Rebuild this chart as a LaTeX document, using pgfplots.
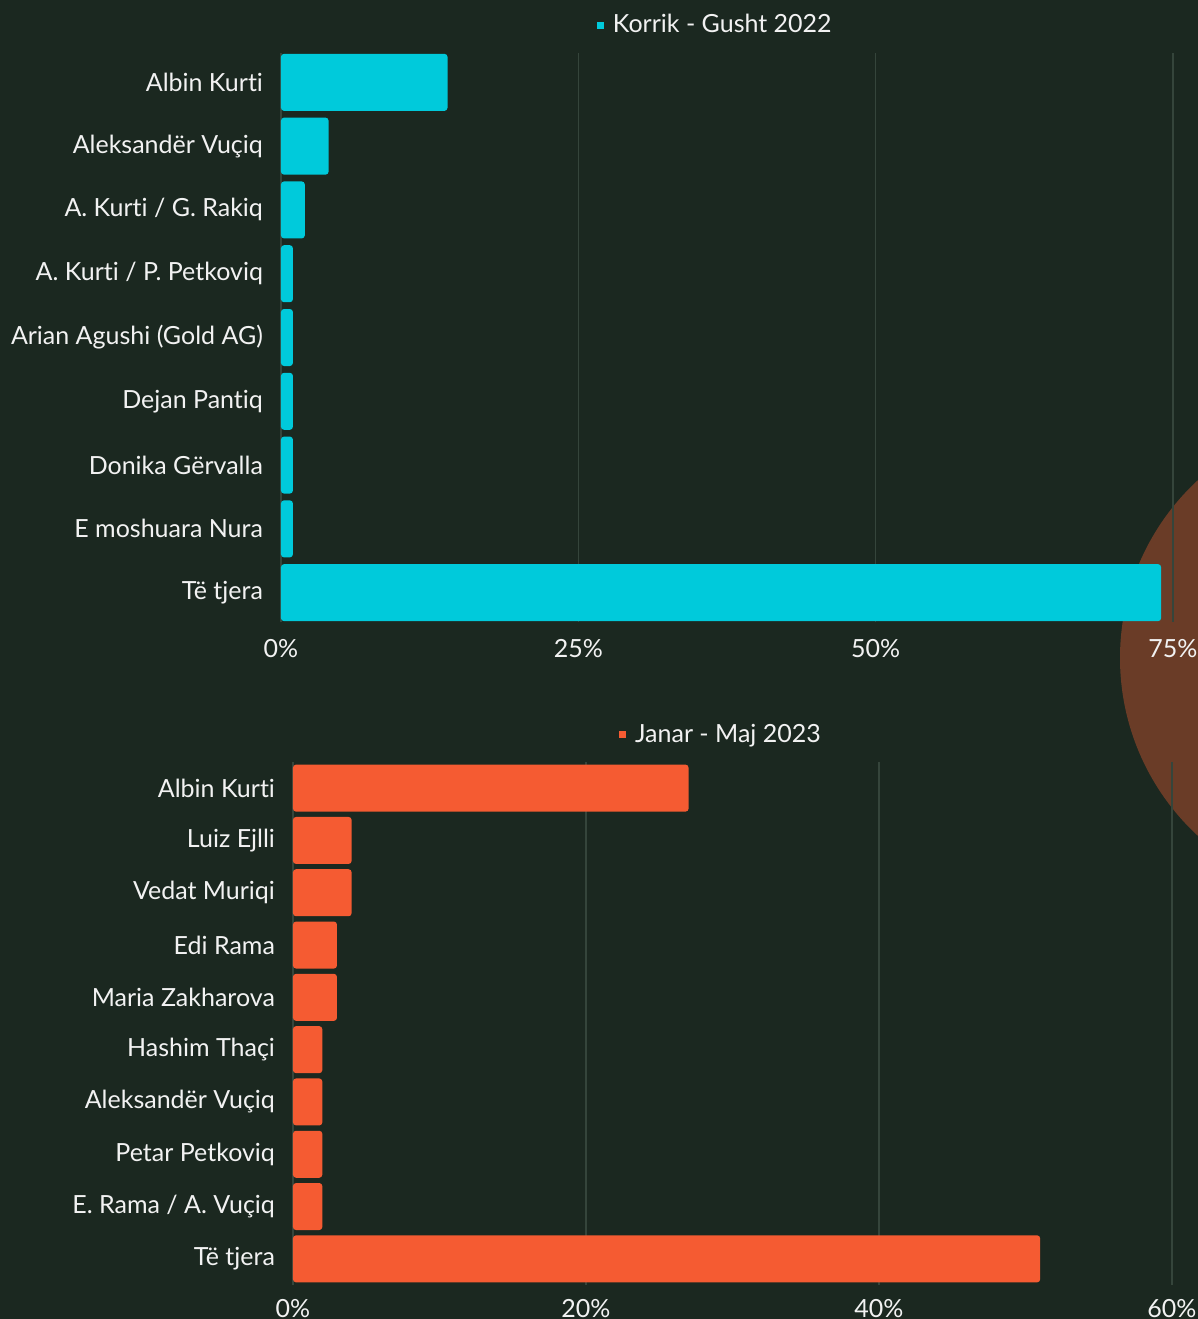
\documentclass[border=0pt]{standalone}
\usepackage{pgfplots}
\pgfplotsset{compat=1.18}
\usepackage{fontspec}
\setmainfont{Lato}[Ligatures={NoCommon}]

\definecolor{bgc}{HTML}{1B2820}
\definecolor{gridc}{HTML}{35453B}
\definecolor{cyanbar}{HTML}{00CADB}
\definecolor{orangebar}{HTML}{F55B32}
\definecolor{blob}{HTML}{6A3C27}
\definecolor{txt}{HTML}{F2F2F2}

% shared look of both panels
\pgfplotsset{
  panel/.style={
    scale only axis,
    xbar, xmin=0,
    y dir=reverse,
    axis line style={draw=none},
    major tick length=0pt,
    xmajorgrids, grid style={gridc, line width=0.6pt},
    ytick=data,
    tick label style={text=txt, font=\fontsize{12.5}{14}\selectfont},
    /pgf/number format/assume math mode=true,
    xticklabel={\pgfmathprintnumber{\tick}\%},
    yticklabel style={anchor=east, xshift=-5.5pt},
    legend style={draw=none, fill=none, text=txt,
      font=\fontsize{12.5}{14}\selectfont, anchor=center,
      /tikz/every odd column/.append style={column sep=2.5pt}},
    legend image code/.code={\fill[##1, draw=none, sharp corners] (0pt,-1.75pt) rectangle (3.5pt,1.75pt);},
  },
}

\begin{document}
\begin{tikzpicture}
\fill[bgc] (0,0) rectangle (599pt,659.5pt);
\useasboundingbox (0,0) rectangle (599pt,659.5pt);
\begin{scope}
  \clip (0,0) rectangle (599pt,659.5pt);
  \fill[blob] (681pt,330.5pt) circle (121pt);
\end{scope}

% ---- Korrik - Gusht 2022 ----
\begin{axis}[panel,
  at={(140.5pt,348.5pt)}, anchor=south west,
  width=446pt, height=284.5pt,
  xmax=75, xtick={0,25,50,75},
  ymin=-0.46, ymax=8.46,
  bar width=28.5pt,
  xticklabel style={anchor=center, yshift=-13.5pt},
  yticklabels={Albin Kurti, Aleksandër Vuçiq, A. Kurti / G. Rakiq,
    A. Kurti / P. Petkoviq, Arian Agushi (Gold AG), Dejan Pantiq,
    Donika Gërvalla, E moshuara Nura, Të tjera},
  legend style={at={(0.488,1)}, yshift=14pt},
]
\addplot[fill=cyanbar, draw=none, rounded corners=1.5pt] coordinates {
  (14,0) (4,1) (2,2) (1,3) (1,4) (1,5) (1,6) (1,7) (74,8)};
\addlegendentry{Korrik - Gusht 2022}
\end{axis}

% ---- Janar - Maj 2023 ----
\begin{axis}[panel,
  at={(146.5pt,17pt)}, anchor=south west,
  width=439.5pt, height=261.5pt,
  xmax=60, xtick={0,20,40,60},
  ymin=-0.5, ymax=9.5,
  bar width=23.5pt,
  xticklabel style={anchor=center, yshift=-12pt},
  yticklabels={Albin Kurti, Luiz Ejlli, Vedat Muriqi, Edi Rama,
    Maria Zakharova, Hashim Thaçi, Aleksandër Vuçiq, Petar Petkoviq,
    E. Rama / A. Vuçiq, Të tjera},
  legend style={at={(0.488,1)}, yshift=13.5pt},
]
\addplot[fill=orangebar, draw=none, rounded corners=1.5pt] coordinates {
  (27,0) (4,1) (4,2) (3,3) (3,4) (2,5) (2,6) (2,7) (2,8) (51,9)};
\addlegendentry{Janar - Maj 2023}
\end{axis}
\end{tikzpicture}
\end{document}
